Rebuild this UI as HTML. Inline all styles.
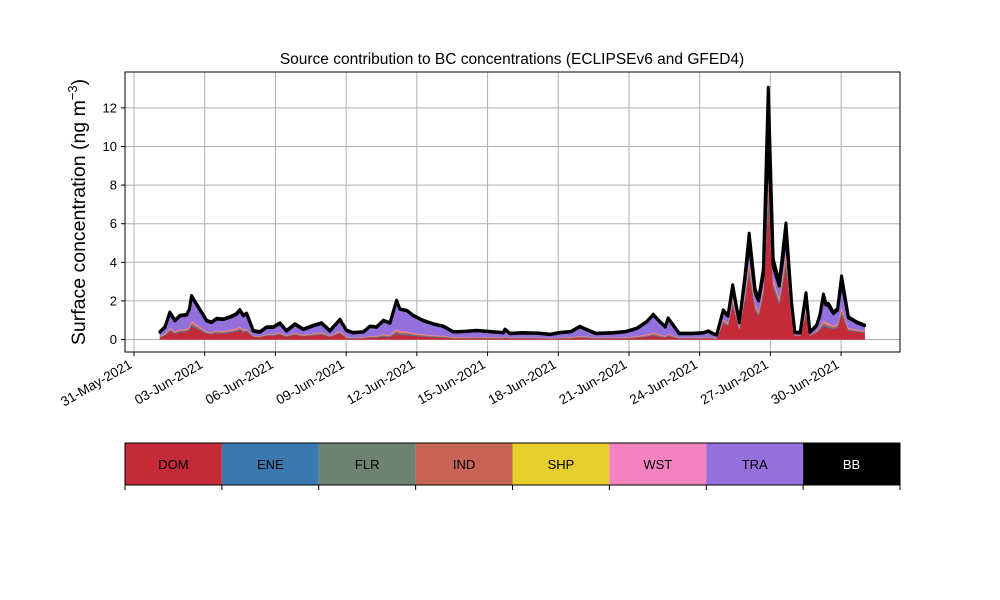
<!DOCTYPE html>
<html><head><meta charset="utf-8"><style>
html,body{margin:0;padding:0;background:#fff;}
svg{display:block;font-family:"Liberation Sans","DejaVu Sans",sans-serif;}
</style></head><body>
<svg id="chart" width="1000" height="600" viewBox="0 0 1000 600" xmlns="http://www.w3.org/2000/svg">
<rect width="1000" height="600" fill="#fff"/>
<g id="grid"></g>
<g id="areas"></g>
<g id="axes"></g>
<text x="512" y="64" text-anchor="middle" font-size="15.5">Source contribution to BC concentrations (ECLIPSEv6 and GFED4)</text>
<text transform="translate(85,212) rotate(-90)" text-anchor="middle" font-size="19.5">Surface concentration (ng m<tspan font-size="13" dy="-8">−3</tspan><tspan dy="8">)</tspan></text>
<g id="legend"></g>
</svg>
<script>
const days=[1.10,1.31,1.52,1.74,1.95,2.23,2.35,2.44,2.65,2.87,3.08,3.29,3.50,3.79,4.07,4.35,4.49,4.64,4.78,5.06,5.34,5.63,5.91,6.19,6.47,6.83,7.18,7.61,7.96,8.31,8.74,9.02,9.30,9.73,10.01,10.29,10.58,10.86,11.14,11.28,11.57,11.85,12.27,12.70,13.12,13.55,13.97,14.54,15.24,15.67,15.74,15.95,16.50,17.20,17.65,18.00,18.55,18.92,19.20,19.60,20.30,20.85,21.33,21.75,22.03,22.30,22.54,22.66,22.85,23.13,23.70,24.15,24.37,24.55,24.72,25.00,25.20,25.40,25.68,25.92,26.10,26.35,26.50,26.70,26.91,27.12,27.38,27.66,27.90,28.04,28.26,28.51,28.68,28.96,29.10,29.25,29.35,29.46,29.67,29.85,30.02,30.31,30.66,31.00];
const DOM=[0.12,0.20,0.43,0.30,0.38,0.39,0.48,0.69,0.56,0.43,0.30,0.27,0.33,0.32,0.35,0.41,0.47,0.38,0.41,0.14,0.12,0.20,0.20,0.26,0.14,0.25,0.16,0.22,0.26,0.14,0.32,
0.07,0.05,0.06,0.10,0.10,0.15,0.13,0.31,0.24,0.23,0.19,0.15,0.12,0.10,0.06,0.06,0.07,0.06,0.05,0.08,0.05,0.05,0.05,0.04,0.05,0.06,0.10,0.08,0.05,0.05,0.06,0.09,0.14,0.20,0.14,0.10,0.17,0.12,0.05,0.05,0.05,0.07,0.05,0.03,
0.85,0.70,1.80,0.50,2.00,3.40,1.50,1.20,2.30,7.00,2.60,1.80,3.80,1.10,0.20,0.18,1.30,0.20,0.35,0.50,0.70,0.65,0.60,0.55,0.60,1.30,0.45,0.40,0.35];
const ENE=[0.01,0.02,0.04,0.03,0.04,0.04,0.05,0.07,0.06,0.04,0.03,0.03,0.03,0.03,0.04,0.04,0.05,0.04,0.04,0.01,0.01,0.02,0.02,0.03,0.01,0.02,0.02,0.02,0.03,0.01,0.03,0.01,0.01,0.01,0.02,0.02,0.03,0.03,0.06,0.05,0.05,0.04,0.03,0.02,0.02,0.01,0.01,0.01,0.01,0.01,0.02,0.01,0.01,0.01,0.01,0.01,0.01,0.02,0.02,0.01,0.01,0.01,0.02,0.03,0.04,0.03,0.02,0.03,0.02,0.01,0.01,0.01,0.01,0.01,0.01,0.05,0.04,0.09,0.03,0.10,0.17,0.08,0.06,0.11,0.40,0.13,0.09,0.18,0.06,0.01,0.01,0.07,0.01,0.02,0.04,0.07,0.06,0.06,0.04,0.05,0.10,0.04,0.03,0.02];
const FLR=[0.01,0.01,0.01,0.01,0.01,0.01,0.01,0.01,0.01,0.01,0.01,0.01,0.01,0.01,0.01,0.01,0.01,0.01,0.01,0.01,0.01,0.01,0.01,0.01,0.01,0.01,0.01,0.01,0.01,0.01,0.01,0.01,0.01,0.01,0.01,0.01,0.01,0.01,0.01,0.01,0.01,0.01,0.01,0.01,0.01,0.01,0.01,0.01,0.01,0.01,0.01,0.01,0.01,0.01,0.01,0.01,0.01,0.01,0.01,0.01,0.01,0.01,0.01,0.01,0.01,0.01,0.01,0.01,0.01,0.01,0.01,0.01,0.01,0.01,0.01,0.02,0.01,0.03,0.01,0.03,0.06,0.03,0.02,0.04,0.13,0.04,0.03,0.06,0.02,0.00,0.00,0.02,0.00,0.01,0.01,0.02,0.02,0.02,0.01,0.02,0.03,0.01,0.01,0.01];
const IND=[0.02,0.03,0.07,0.05,0.06,0.07,0.08,0.12,0.09,0.07,0.05,0.05,0.06,0.05,0.06,0.07,0.08,0.06,0.07,0.02,0.02,0.03,0.03,0.04,0.02,0.04,0.03,0.04,0.04,0.02,0.05,0.02,0.02,0.02,0.04,0.03,0.05,0.04,0.10,0.08,0.08,0.06,0.05,0.04,0.04,0.02,0.02,0.02,0.02,0.02,0.03,0.02,0.02,0.02,0.01,0.02,0.02,0.03,0.03,0.02,0.02,0.02,0.03,0.05,0.07,0.05,0.03,0.06,0.04,0.02,0.02,0.02,0.02,0.02,0.01,0.08,0.06,0.14,0.05,0.17,0.28,0.13,0.11,0.18,0.66,0.21,0.15,0.31,0.10,0.02,0.02,0.12,0.02,0.04,0.07,0.12,0.10,0.09,0.07,0.08,0.17,0.06,0.05,0.04];
const SHP=[0.01,0.01,0.01,0.01,0.01,0.01,0.01,0.01,0.01,0.01,0.01,0.01,0.01,0.01,0.01,0.01,0.01,0.01,0.01,0.01,0.01,0.01,0.01,0.01,0.01,0.01,0.01,0.01,0.01,0.01,0.01,0.01,0.01,0.01,0.01,0.01,0.01,0.01,0.01,0.01,0.01,0.01,0.01,0.01,0.01,0.01,0.01,0.01,0.01,0.01,0.01,0.01,0.01,0.01,0.01,0.01,0.01,0.01,0.01,0.01,0.01,0.01,0.01,0.01,0.01,0.01,0.01,0.01,0.01,0.01,0.01,0.01,0.01,0.01,0.01,0.02,0.01,0.03,0.01,0.03,0.06,0.03,0.02,0.04,0.13,0.04,0.03,0.06,0.02,0.00,0.00,0.02,0.00,0.01,0.01,0.02,0.02,0.02,0.01,0.02,0.03,0.01,0.01,0.01];
const WST=[0.01,0.02,0.04,0.03,0.04,0.04,0.05,0.07,0.06,0.04,0.03,0.03,0.03,0.03,0.04,0.04,0.05,0.04,0.04,0.01,0.01,0.02,0.02,0.03,0.01,0.02,0.02,0.02,0.03,0.01,0.03,0.01,0.01,0.01,0.02,0.02,0.03,0.03,0.06,0.05,0.05,0.04,0.03,0.02,0.02,0.01,0.01,0.01,0.01,0.01,0.02,0.01,0.01,0.01,0.01,0.01,0.01,0.02,0.02,0.01,0.01,0.01,0.02,0.03,0.04,0.03,0.02,0.03,0.02,0.01,0.01,0.01,0.01,0.01,0.01,0.05,0.04,0.09,0.03,0.10,0.17,0.08,0.06,0.11,0.40,0.13,0.09,0.18,0.06,0.01,0.01,0.07,0.01,0.02,0.04,0.07,0.06,0.06,0.04,0.05,0.10,0.04,0.03,0.02];
const TRA=[0.19,0.33,0.78,0.53,0.68,0.70,0.87,1.27,1.02,0.78,0.53,0.47,0.59,0.58,0.63,0.73,0.84,0.68,0.75,0.23,0.19,0.33,0.33,0.45,0.23,0.43,0.26,0.38,0.45,0.23,0.56,
0.32,0.23,0.26,0.47,0.44,0.69,0.59,1.46,1.12,1.06,0.88,0.69,0.57,0.47,0.26,0.28,0.32,0.26,0.23,0.34,0.19,0.22,0.20,0.16,0.22,0.28,0.47,0.33,0.19,0.22,0.27,0.38,0.63,0.91,0.65,0.45,0.78,0.55,0.19,0.19,0.22,0.29,0.19,0.14,
0.42,0.34,0.51,0.24,0.67,0.87,0.58,0.53,0.57,1.75,0.61,0.58,0.85,0.49,0.12,0.11,0.68,0.12,0.26,0.56,1.21,0.88,0.92,0.62,0.70,1.27,0.51,0.34,0.26];
const BB=[0.04,0.04,0.04,0.04,0.04,0.04,0.04,0.04,0.04,0.04,0.04,0.04,0.04,0.04,0.04,0.04,0.04,0.04,0.04,0.04,0.04,0.04,0.04,0.04,0.04,0.04,0.04,0.04,0.04,0.04,0.04,
0.03,0.03,0.03,0.03,0.03,0.03,0.03,0.03,0.03,0.03,0.03,0.03,0.03,0.03,0.03,0.03,0.03,0.03,0.03,0.03,0.03,0.03,0.03,0.03,0.03,0.03,0.03,0.03,0.03,0.03,0.03,0.03,0.03,0.03,0.03,0.03,0.03,0.03,0.03,0.03,0.03,0.03,0.03,0.03,
0.05,0.05,0.15,0.05,0.20,0.50,0.20,0.10,0.30,2.60,0.40,0.20,0.60,0.10,0.03,0.03,0.15,0.03,0.04,0.06,0.15,0.10,0.10,0.08,0.08,0.30,0.06,0.05,0.04];
const seriesNames=["DOM","ENE","FLR","IND","SHP","WST","TRA","BB"];
const seriesColors=["#c52a39","#3a78b0","#6d8272","#c86455","#e6cf2d","#f283c0","#9370db","#000000"];
const yTicks=[0,2,4,6,8,10,12];
const xTickDays=[0,3,6,9,12,15,18,21,24,27,30];
const xTickLabels=["31-May-2021","03-Jun-2021","06-Jun-2021","09-Jun-2021","12-Jun-2021","15-Jun-2021","18-Jun-2021","21-Jun-2021","24-Jun-2021","27-Jun-2021","30-Jun-2021"];

const NS="http://www.w3.org/2000/svg";
const L=125,R=900,T=72,B=352;
const xS=d=>134+d*23.57;
const yS=v=>339.5-v*19.3;
function mk(tag,attrs,parent){const e=document.createElementNS(NS,tag);for(const k in attrs)e.setAttribute(k,attrs[k]);parent.appendChild(e);return e;}
const grid=document.getElementById('grid'),areas=document.getElementById('areas'),axes=document.getElementById('axes'),legend=document.getElementById('legend');

yTicks.forEach(v=>{
  const g=mk('line',{x1:L,x2:R,y1:yS(v),y2:yS(v),stroke:"#b0b0b0","stroke-width":1},grid);
  
  
  const t=mk('line',{x1:L-4,x2:L,y1:yS(v),y2:yS(v),stroke:"#000"},axes);
  
  
  const lb=mk('text',{x:L-8,y:yS(v)+4.5,"text-anchor":"end","font-size":13},axes);
  lb.textContent=v;
  
  
});
xTickDays.forEach((d,i)=>{
  const x=xS(d);
  const g=mk('line',{x1:x,x2:x,y1:T,y2:B,stroke:"#b0b0b0","stroke-width":1},grid);
  
  
  const t=mk('line',{x1:x,x2:x,y1:B,y2:B+4,stroke:"#000"},axes);
  
  
  const lb=mk('text',{transform:`translate(${x-1},${B+15}) rotate(-30)`,"text-anchor":"end","font-size":13.5},axes);
  lb.textContent=xTickLabels[i];
  
  
});

const data=[DOM,ENE,FLR,IND,SHP,WST,TRA,BB];
let base=days.map(()=>0);
data.forEach((s,k)=>{
  const top=base.map((b,i)=>b+s[i]);
  let d="M"+days.map((dd,i)=>xS(dd).toFixed(2)+","+yS(top[i]).toFixed(2)).join("L");
  for(let i=days.length-1;i>=0;i--)d+="L"+xS(days[i]).toFixed(2)+","+yS(base[i]).toFixed(2);
  d+="Z";
  const p=mk('path',{d:d,fill:seriesColors[k],stroke:seriesColors[k],"stroke-width":k==7?3:0.5,"stroke-linejoin":"round"},areas);
  
  
  base=top;
});

const frame=mk('rect',{x:L,y:T,width:R-L,height:B-T,fill:"none",stroke:"#000","stroke-width":1},axes);



const lw=(R-L)/seriesNames.length;
seriesNames.forEach((n,i)=>{
  const r=mk('rect',{x:L+i*lw,y:443,width:lw,height:42,fill:seriesColors[i]},legend);
  
  
  const t=mk('text',{x:L+i*lw+lw/2,y:469,"text-anchor":"middle","font-size":13,fill:i==7?"#fff":"#000"},legend);
  t.textContent=n;
  
  
});
for(let i=0;i<=seriesNames.length;i++){
  const t=mk('line',{x1:L+i*lw,x2:L+i*lw,y1:485,y2:490,stroke:"#000"},legend);
  
  
}
const lf=mk('rect',{x:L,y:443,width:R-L,height:42,fill:"none",stroke:"#000"},legend);


</script>
</body></html>
